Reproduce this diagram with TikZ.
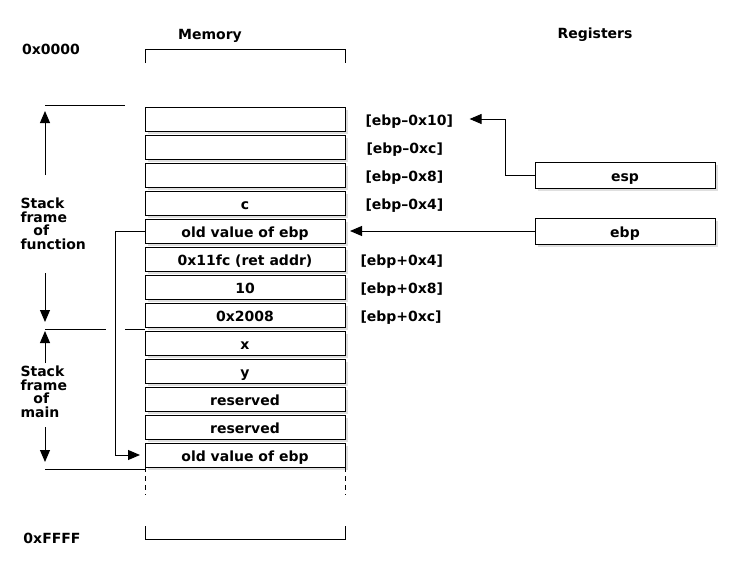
\documentclass[tikz,border=0pt]{standalone}
\usepackage{fontspec}
\setmainfont{DejaVu Sans}
\usepackage{tikz}
\usetikzlibrary{
  arrows.meta,
  positioning,
  shadows
}

\begin{document}
\begin{tikzpicture}[
  x=1pt, y=-1pt, line width=1pt,
  every node/.style={font=\fontsize{14}{13.6}\selectfont\bfseries},
  cell/.style={draw, fill=white, minimum width=200pt, minimum height=24pt,
               inner sep=0pt, outer sep=0pt, text height=13pt, text depth=0pt,
               drop shadow={shadow xshift=3pt, shadow yshift=-3pt, fill=black!25}},
  reg/.style={cell, minimum width=180pt, minimum height=26pt},
  arrow/.style={-{Triangle[length=12pt, width=10pt]}},
  lbl/.style={inner sep=0pt, text height=13pt, text depth=0pt},
  frame/.style={anchor=north west, align=left, inner sep=0pt},
]
  \useasboundingbox (0,0) rectangle (740,574);

  % headings
  \node (mem) at (210,36) {Memory};
  \node (regs) at (595,35) {Registers};
  \node (lo) at (51,49) {0x0000};
  \node (hi) at (52,538) {0xFFFF};

  % memory cells
  \node[cell] (c1) at (245,119) {};
  \node[cell, below=4pt of c1] (c2) {};
  \node[cell, below=4pt of c2] (c3) {};
  \node[cell, below=4pt of c3] (c4) {c};
  \node[cell, below=4pt of c4] (c5) {old value of ebp};
  \node[cell, below=4pt of c5] (c6) {0x11fc (ret addr)};
  \node[cell, below=4pt of c6] (c7) {10};
  \node[cell, below=4pt of c7] (c8) {0x2008};
  \node[cell, below=4pt of c8] (c9) {x};
  \node[cell, below=4pt of c9] (c10) {y};
  \node[cell, below=4pt of c10] (c11) {reserved};
  \node[cell, below=4pt of c11] (c12) {reserved};
  \node[cell, below=4pt of c12] (c13) {old value of ebp};

  % memory brackets
  \draw (145,63) -- (145,49) -- (345,49) -- (345,63);
  \draw[dash pattern=on 5pt off 4pt] (c13.south west) -- ++(0,28);
  \draw[dash pattern=on 5pt off 4pt] (c13.south east) -- ++(0,28);
  \draw (145,526) -- (145,539) -- (345,539) -- (345,526);

  % offsets from ebp
  \node[lbl, right=20pt of c1] (o1) {[ebp\textendash0x10]};
  \node[lbl, right=21pt of c2] (o2) {[ebp\textendash0xc]};
  \node[lbl, right=20pt of c3] (o3) {[ebp\textendash0x8]};
  \node[lbl, right=20pt of c4] (o4) {[ebp\textendash0x4]};
  \node[lbl, right=15pt of c6] (o6) {[ebp+0x4]};
  \node[lbl, right=15pt of c7] (o7) {[ebp+0x8]};
  \node[lbl, right=15pt of c8] (o8) {[ebp+0xc]};

  % registers
  \node[reg] (esp) at (625,175) {esp};
  \node[reg] (ebp) at (625,231) {ebp};

  \draw[arrow, shorten >=16pt] (esp.west) -- ++(-30,0) |- (o1.east);
  \draw[arrow, shorten >=5pt] (ebp.west) -- (c5.east);
  \draw[arrow, shorten >=5pt] (c5.west) -- ++(-30,0) |- (c13.west);

  % stack frames
  \draw (45,105) -- (125,105);
  \draw[arrow] (45,175) -- (45,111);
  \node[frame] (sff) at (20,197.5) {Stack\\frame\\\hspace*{13pt}of\\function};
  \draw[arrow] (45,273) -- (45,322);
  \draw (45,329) -- (106,329);
  \draw (125,329) -- (145,329);
  \draw[arrow] (45,363) -- (45,331);
  \node[frame] (sfm) at (20,365.5) {Stack\\frame\\\hspace*{13pt}of\\main};
  \draw[arrow] (45,427) -- (45,462);
  \draw (45,469) -- (145,469);
\end{tikzpicture}
\end{document}
